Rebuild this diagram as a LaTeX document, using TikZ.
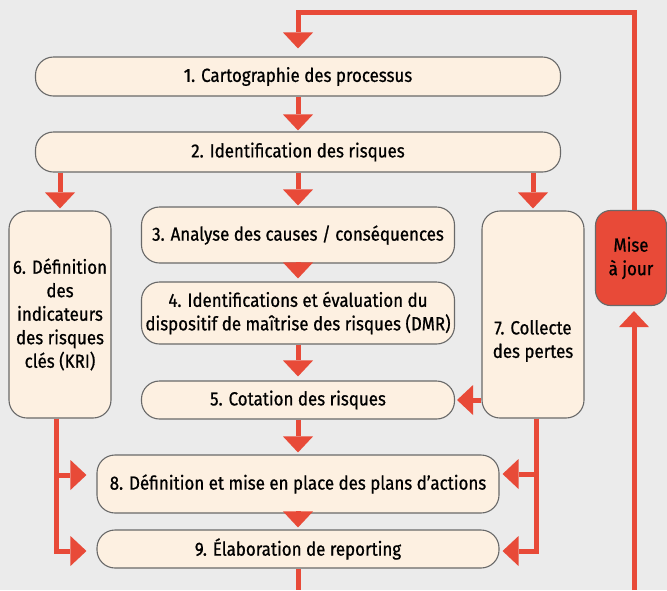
\documentclass[tikz,border=0pt]{standalone}
\usepackage{fontspec}
\setmainfont[FakeStretch=0.89, FakeBold=0.8]{Fira Sans}
\usetikzlibrary{arrows.meta, calc}

\begin{document}
\begin{tikzpicture}[x=1pt, y=-1pt,
    box/.style={draw=myborder, fill=mycream, line width=1.1pt, rounded corners=18pt,
        align=center, inner sep=0pt, font=\fontsize{19}{23.5}\selectfont},
    arr/.style={draw=myred, line width=5pt,
        -{Triangle[width=30pt, length=16pt, line width=0pt]}},
    link/.style={draw=myred, line width=5pt}]

    % --- Definitions ---
    % Colors to match the image
    \definecolor{myred}{RGB}{232, 74, 56}
    \definecolor{mycream}{RGB}{253, 240, 225}
    \definecolor{myborder}{RGB}{105, 105, 105}
    \definecolor{mybg}{RGB}{235, 235, 235}

    % Main column axis
    \def\midX{298}

    % Background and frame
    \fill[mybg] (0,0) rectangle (667,590);
    \useasboundingbox (0,0) rectangle (667,590);

    % --- Main column ---
    \node[box, minimum width=525pt, minimum height=39pt] (carto) at (\midX,76.5)
        {1. Cartographie des processus};
    \node[box, minimum width=525pt, minimum height=40pt] (ident) at (\midX,152)
        {2. Identification des risques};
    \node[box, minimum width=313pt, minimum height=56pt] (causes) at (\midX,235)
        {3. Analyse des causes / conséquences};
    \node[box, minimum width=313pt, minimum height=62pt] (dmr) at (\midX,313)
        {4. Identifications et évaluation du\\dispositif de maîtrise des risques (DMR)};
    \node[box, minimum width=313pt, minimum height=38pt] (cotation) at (\midX,400)
        {5. Cotation des risques};
    \node[box, minimum width=402pt, minimum height=58pt] (plans) at (\midX,484)
        {8. Définition et mise en place des plans d’actions};
    \node[box, minimum width=402pt, minimum height=38pt] (reporting) at (\midX,549)
        {9. Élaboration de reporting};

    % --- Side columns ---
    \node[box, minimum width=102pt, minimum height=207pt] (kri) at (60,314.5)
        {6. Définition\\des\\indicateurs\\des risques\\clés (KRI)};
    \node[box, minimum width=102pt, minimum height=207pt] (pertes) at (533,314.5) {};
    \node[align=center, font=\fontsize{19}{23.5}\selectfont] (pertesTxt) at (533,341)
        {7. Collecte\\des pertes};
    \node[box, fill=myred, rounded corners=15pt, minimum width=71pt, minimum height=95pt]
        (miseajour) at (631,258) {Mise\\à jour};

    % --- Flow arrows ---
    \coordinate (loopTop) at (carto.north |- 0,12);
    \draw[arr, shorten >=8pt] ([xshift=3pt]miseajour.north) |- (loopTop) -- (carto.north);
    \draw[arr, shorten >=1pt] (carto) -- (ident);
    \draw[arr, shorten >=2pt] (ident.south -| kri.north) -- (kri.north);
    \draw[arr, shorten >=1pt] (ident.south -| causes.north) -- (causes.north);
    \draw[arr, shorten >=2pt] (ident.south -| pertes.north) -- (pertes.north);
    \draw[arr, shorten >=3pt] (causes) -- (dmr);
    \draw[arr, shorten >=4pt] (dmr) -- (cotation);
    \draw[arr, shorten >=2pt] (pertes.west |- cotation.east) -- (cotation.east);
    \draw[arr, shorten >=2pt] (cotation) -- (plans);
    \draw[arr, shorten >=2pt] (plans) -- (reporting);

    % KRI and losses feed the action plans and reporting
    \coordinate (kriOut) at ([xshift=-4pt]kri.south);
    \coordinate (pertesOut) at ([xshift=3pt]pertes.south);
    \draw[arr] (kriOut) |- ([xshift=-10pt, yshift=9pt]plans.west);
    \draw[arr] (kriOut) |- ([xshift=-10pt, yshift=-2pt]reporting.west);
    \draw[arr] (pertesOut) |- ([xshift=3pt, yshift=10pt]plans.east);
    \draw[arr] (pertesOut) |- ([xshift=3pt, yshift=-2pt]reporting.east);

    % Loop back through the update box
    \coordinate (loopOut) at (reporting.south |- 0,590);
    \coordinate (loopIn) at ([xshift=3pt]miseajour.south |- 0,590);
    \draw[link] (reporting.south) -- (loopOut);
    \draw[arr, shorten >=5pt] (loopIn) -- ([xshift=3pt]miseajour.south);

\end{tikzpicture}
\end{document}
